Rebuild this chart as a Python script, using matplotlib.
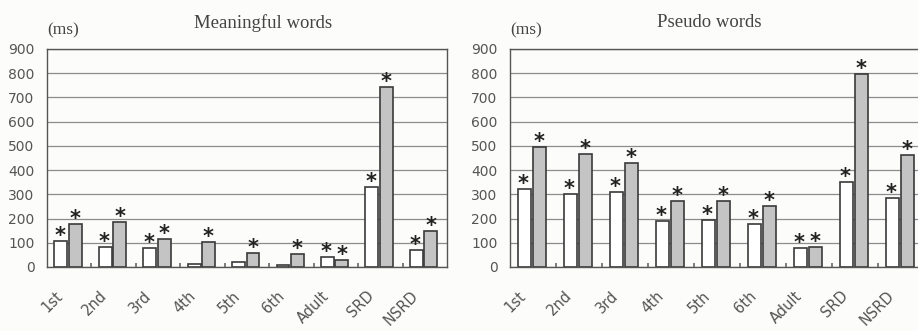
import matplotlib.pyplot as plt
import numpy as np

groups = ["1st", "2nd", "3rd", "4th", "5th", "6th", "Adult", "SRD", "NSRD"]

# meaningful words (ms): white = first series, gray = second series
mean_white = [108, 83, 80, 14, 19, 8, 40, 331, 69]
mean_gray = [177, 186, 116, 102, 58, 52, 29, 743, 149]
mean_white_star = [1, 1, 1, 0, 0, 0, 1, 1, 1]
mean_gray_star = [1, 1, 1, 1, 1, 1, 1, 1, 1]

# pseudo words (ms)
pseudo_white = [322, 301, 308, 190, 195, 178, 77, 351, 286]
pseudo_gray = [494, 468, 429, 274, 274, 253, 83, 797, 464]
pseudo_white_star = [1, 1, 1, 1, 1, 1, 1, 1, 1]
pseudo_gray_star = [1, 1, 1, 1, 1, 1, 1, 1, 1]

yticks = [0, 100, 200, 300, 400, 500, 600, 700, 800, 900]

EDGE = "#3a3a3a"
GRAY = "#c4c4c4"
TXT = "#555555"


def star(ax, xpos, top):
    # significance mark sitting just above a bar
    ax.text(xpos, top - 4, "*", ha="center", va="baseline", fontsize=15,
            fontweight="bold", color="#222222", family="DejaVu Sans", clip_on=False)


def draw_panel(ax, white, gray, w_star, g_star, title, title_dx):
    x = np.arange(len(groups))
    ax.set_axisbelow(True)
    ax.grid(axis="y", color="#8c8c8c", linewidth=0.9)
    ax.bar(x + 0.31, white, width=0.29, color="white", edgecolor=EDGE, linewidth=1.2)
    ax.bar(x + 0.635, gray, width=0.29, color=GRAY, edgecolor=EDGE, linewidth=1.2)
    for i in range(len(groups)):
        if w_star[i]:
            star(ax, x[i] + 0.29, white[i])
        if g_star[i]:
            star(ax, x[i] + 0.635, gray[i])
    ax.set_xlim(0, len(groups))
    ax.set_ylim(0, 900)
    ax.set_yticks(yticks)
    ax.tick_params(axis="y", length=0, pad=9, labelsize=10, labelcolor=TXT)
    ax.set_xticks(x + 0.3)
    ax.set_xticklabels(groups, rotation=45, ha="right", va="center",
                       rotation_mode="anchor", fontsize=10.5, color=TXT)
    ax.tick_params(axis="x", length=0, pad=19)
    ax.set_xticks(np.arange(1, len(groups)), minor=True)
    ax.tick_params(axis="x", which="minor", direction="in", length=3,
                   width=1.2, color="#666666")
    for s in ax.spines.values():
        s.set_color("#555555")
        s.set_linewidth(1.0)
    ax.text(0.5 + title_dx, 1.12, title, transform=ax.transAxes, ha="center",
            va="center", fontsize=13.5, family="Liberation Serif", color="#444444")
    ax.text(0.0, 1.087, "(ms)", transform=ax.transAxes, ha="left", va="center",
            fontsize=12.5, family="Liberation Serif", color="#444444")


fig = plt.figure(figsize=(9.18, 3.31), dpi=100)
fig.patch.set_facecolor("#fcfcfa")

ax1 = fig.add_axes([0.0512, 0.1934, 0.4357, 0.6586])
ax2 = fig.add_axes([0.5556, 0.1934, 0.451, 0.6586])
for a in (ax1, ax2):
    a.set_facecolor("#fcfcfa")

draw_panel(ax1, mean_white, mean_gray, mean_white_star, mean_gray_star,
           "Meaningful words", 0.04)
draw_panel(ax2, pseudo_white, pseudo_gray, pseudo_white_star, pseudo_gray_star,
           "Pseudo words", -0.02)

fig.savefig("out.png", dpi=100, facecolor=fig.get_facecolor())
